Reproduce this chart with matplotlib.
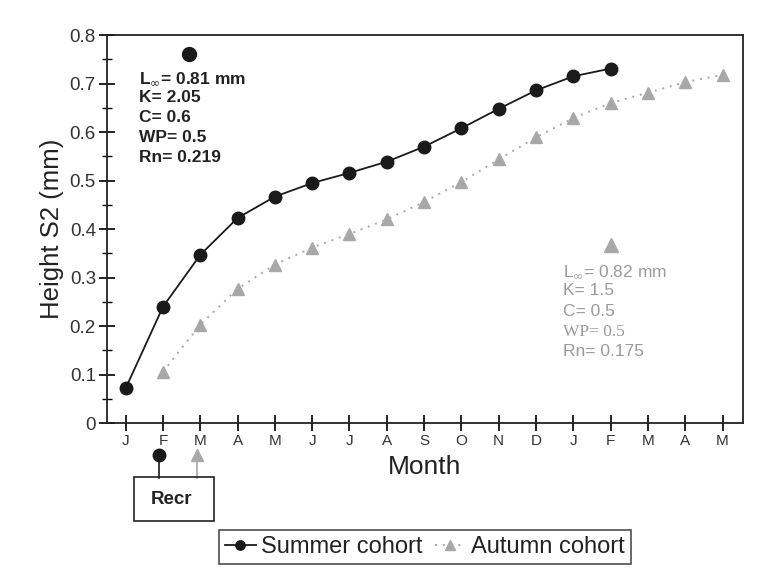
import matplotlib
matplotlib.use('Agg')
import matplotlib.pyplot as plt
from matplotlib.patches import Rectangle

plt.rcParams['font.family'] = ['Liberation Sans', 'DejaVu Sans']

# months from J (summer start) to M of the following year
months = ['J', 'F', 'M', 'A', 'M', 'J', 'J', 'A', 'S', 'O', 'N', 'D', 'J', 'F', 'M', 'A', 'M']

summer_x = list(range(0, 14))
summer_h = [0.072, 0.240, 0.347, 0.423, 0.467, 0.495, 0.516, 0.539, 0.570, 0.608, 0.648, 0.686, 0.715, 0.731]

autumn_x = list(range(1, 17))
autumn_h = [0.106, 0.203, 0.277, 0.327, 0.362, 0.390, 0.420, 0.456, 0.497, 0.544, 0.589, 0.629, 0.660, 0.681, 0.703, 0.718]

summer_params = ['L$_{\\infty}$= 0.81 mm', 'K= 2.05', 'C= 0.6', 'WP= 0.5', 'Rn= 0.219']
autumn_params = ['L$_{\\infty}$= 0.82 mm', 'K= 1.5', 'C= 0.5', 'WP= 0.5', 'Rn= 0.175']

black = '#1a1a1a'
grey = '#a8a8a8'
tgrey = '#9a9a9a'

fig = plt.figure(figsize=(7.59, 5.75), dpi=100)
ax = fig.add_axes([0.141, 0.264, 0.838, 0.675])

ax.plot(summer_x, summer_h, color=black, lw=1.3, marker='o', ms=9,
        markerfacecolor=black, markeredgecolor=black, label='Summer cohort')
ax.plot(autumn_x, autumn_h, color=grey, lw=1.4, ls=(0, (1, 3)), marker='^', ms=9,
        markerfacecolor=grey, markeredgecolor=grey, label='Autumn cohort')

ax.set_xlim(-0.5, 16.55)
ax.set_ylim(0, 0.8)
ax.set_xticks(range(len(months)))
ax.set_xticklabels(months, fontsize=11, color='#333333')
ax.set_yticks([0, 0.1, 0.2, 0.3, 0.4, 0.5, 0.6, 0.7, 0.8])
ax.set_yticklabels(['0', '0.1', '0.2', '0.3', '0.4', '0.5', '0.6', '0.7', '0.8'],
                   fontsize=13.5, color='#333333')
ax.set_yticks([0.05, 0.15, 0.25, 0.35, 0.45, 0.55, 0.65, 0.75], minor=True)
ax.tick_params(axis='both', which='major', direction='inout', length=12, width=1.2, pad=2)
ax.tick_params(axis='y', which='minor', direction='inout', length=7, width=1.0)
for s in ax.spines.values():
    s.set_linewidth(1.3)
    s.set_color('#222222')

ax.set_xlabel('Month', fontsize=19, color='#222222', labelpad=5)
ax.set_ylabel('Height S2 (mm)', fontsize=18.5, color='#222222', labelpad=4)

# parameter blocks
ax.plot([1.7], [0.76], marker='o', ms=10, color=black)
for i, line in enumerate(summer_params):
    ax.text(0.35, 0.728 - i * 0.0412, line, fontsize=12.5, fontweight='bold',
            color='#222222', va='top')

ax.plot([13], [0.368], marker='^', ms=10, color=grey)
for i, line in enumerate(autumn_params):
    fam = 'Liberation Serif' if line.startswith('WP') else ['Liberation Sans', 'DejaVu Sans']
    ax.text(11.72, 0.33 - i * 0.0418, line, fontsize=12.5, color=tgrey, va='top',
            family=fam)

# recruitment markers below the axis
ax.plot([0.9, 0.9], [-0.066, -0.112], color=black, lw=1.2, clip_on=False)
ax.plot([0.9], [-0.066], marker='o', ms=9, color=black, clip_on=False)
ax.plot([1.92, 1.92], [-0.066, -0.112], color=grey, lw=1.2, clip_on=False)
ax.plot([1.92], [-0.066], marker='^', ms=9, color=grey, clip_on=False)
box = Rectangle((134 / 759, 1 - 521 / 575), 80 / 759, 44 / 575, transform=fig.transFigure,
                fill=False, edgecolor='#222222', lw=1.2)
fig.patches.append(box)
fig.text(172 / 759, 1 - 499 / 575, 'Recr', fontsize=13.5, fontweight='bold',
         ha='center', va='center', color='#222222')

leg = fig.legend(loc='center', bbox_to_anchor=(425 / 759, 1 - 547 / 575), ncol=2,
                 fontsize=17, frameon=True, fancybox=False, handlelength=1.3,
                 handletextpad=0.25, columnspacing=0.5, borderpad=0.25, markerscale=0.75)
leg.get_frame().set_edgecolor('#222222')
leg.get_frame().set_linewidth(1.2)
for t in leg.get_texts():
    t.set_color('#222222')

fig.savefig('out.png', dpi=100)
